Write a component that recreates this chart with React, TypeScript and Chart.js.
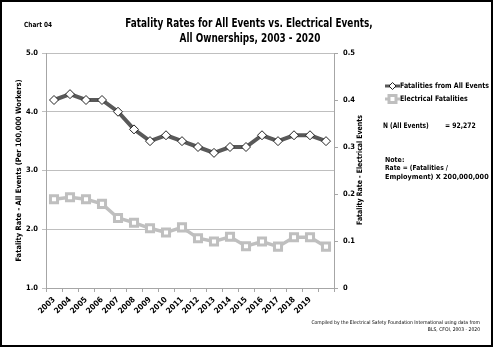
import { useEffect, useRef } from "react";
import { Chart, registerables } from "chart.js";

Chart.register(...registerables);

// ---- data ----
const years = [
  "2003", "2004", "2005", "2006", "2007", "2008", "2009", "2010", "2011",
  "2012", "2013", "2014", "2015", "2016", "2017", "2018", "2019", "2020",
];
// the reference labels only 2003-2019 on the axis
const xTickLabels = [
  "2003", "2004", "2005", "2006", "2007", "2008", "2009", "2010", "2011",
  "2012", "2013", "2014", "2015", "2016", "2017", "2018", "2019",
];
const allEventsRate = [
  4.2, 4.3, 4.2, 4.2, 4.0, 3.7, 3.5, 3.6, 3.5, 3.4, 3.3, 3.4, 3.4, 3.6, 3.5, 3.6, 3.6, 3.5,
];
const electricalRate = [
  0.189, 0.193, 0.189, 0.179, 0.149, 0.139, 0.127, 0.118, 0.129, 0.106, 0.099, 0.109,
  0.089, 0.099, 0.088, 0.108, 0.108, 0.088,
];
const leftTicks = [1, 2, 3, 4, 5];
const rightTicks = [0, 0.1, 0.2, 0.3, 0.4, 0.5];

const seriesNames = ["Fatalities from All Events", "Electrical Fatalities"];
const titleLines = [
  "Fatality Rates for All Events vs. Electrical Events,",
  "All Ownerships, 2003 - 2020",
];
const chartLabel = "Chart 04";
const leftAxisTitle = "Fatality Rate - All Events (Per 100,000 Workers)";
const rightAxisTitle = "Fatality Rate - Electrical Events";
const nLine = ["N (All Events)", "= 92,272"];
const noteLines = ["Note:", "Rate = (Fatalities /", "Employment) X 200,000,000"];
const footerLines = [
  "Compiled by the Electrical Safety Foundation International using data from",
  "BLS, CFOI, 2003 - 2020",
];

const FONT = '"Liberation Sans Narrow", "DejaVu Sans Condensed", Roboto, sans-serif';
const DARK = "#595959";
const LIGHT = "#bfbfbf";

function txt(
  ctx: CanvasRenderingContext2D,
  s: string,
  x: number,
  y: number,
  font: string,
  align: CanvasTextAlign,
  sx = 1,
  rot = 0
) {
  ctx.save();
  ctx.translate(x, y);
  if (rot) ctx.rotate(rot);
  ctx.scale(sx, 1);
  ctx.font = font;
  ctx.textAlign = align;
  ctx.textBaseline = "middle";
  ctx.fillText(s, 0, 0);
  ctx.restore();
}

const decor = {
  id: "decor",
  afterDraw(chart: any) {
    const ctx: CanvasRenderingContext2D = chart.ctx;
    ctx.save();
    ctx.strokeStyle = "#000";
    ctx.lineWidth = 2;
    ctx.strokeRect(1, 1, 491, 345);

    ctx.fillStyle = "#000";
    txt(ctx, chartLabel, 24, 25, `bold 7px ${FONT}`, "left", 0.92);

    txt(ctx, titleLines[0], 249, 24, `bold 11.5px ${FONT}`, "center", 0.86);
    txt(ctx, titleLines[1], 250, 39, `bold 11.5px ${FONT}`, "center", 0.86);

    // right axis title (reads bottom to top)
    txt(ctx, rightAxisTitle, 360, 170, `bold 7.5px ${FONT}`, "center", 0.92, -Math.PI / 2);

    // legend
    const lx0 = 385, lx1 = 400;
    const ly = [86, 99];
    ctx.lineWidth = 3;
    ctx.strokeStyle = DARK;
    ctx.beginPath();
    ctx.moveTo(lx0, ly[0]);
    ctx.lineTo(lx1, ly[0]);
    ctx.stroke();
    ctx.fillStyle = "#fff";
    ctx.strokeStyle = "#222";
    ctx.lineWidth = 1;
    const cx = (lx0 + lx1) / 2;
    ctx.beginPath();
    ctx.moveTo(cx, ly[0] - 3.5);
    ctx.lineTo(cx + 3.5, ly[0]);
    ctx.lineTo(cx, ly[0] + 3.5);
    ctx.lineTo(cx - 3.5, ly[0]);
    ctx.closePath();
    ctx.fill();
    ctx.stroke();

    ctx.lineWidth = 3;
    ctx.strokeStyle = LIGHT;
    ctx.beginPath();
    ctx.moveTo(lx0, ly[1]);
    ctx.lineTo(lx1, ly[1]);
    ctx.stroke();
    ctx.fillStyle = "#fff";
    ctx.fillRect(cx - 3.5, ly[1] - 3.5, 7, 7);
    ctx.strokeRect(cx - 3.5, ly[1] - 3.5, 7, 7);

    ctx.fillStyle = "#000";
    txt(ctx, seriesNames[0], 400, ly[0], `bold 7.5px ${FONT}`, "left", 0.93);
    txt(ctx, seriesNames[1], 400, ly[1], `bold 7.5px ${FONT}`, "left", 0.93);

    txt(ctx, nLine[0], 383, 126, `bold 7.5px ${FONT}`, "left", 0.88);
    txt(ctx, nLine[1], 445, 126, `bold 7.5px ${FONT}`, "left", 0.9);

    txt(ctx, noteLines[0], 385, 160, `bold 7px ${FONT}`, "left", 1);
    txt(ctx, noteLines[1], 385, 168.5, `bold 7px ${FONT}`, "left", 0.95);
    txt(ctx, noteLines[2], 385, 177, `bold 7px ${FONT}`, "left", 1.03);

    txt(ctx, footerLines[0], 480, 323, `5px ${FONT}`, "right", 1);
    txt(ctx, footerLines[1], 480, 330, `5px ${FONT}`, "right", 1);
    ctx.restore();
  },
};

export default function App() {
  const ref = useRef<HTMLCanvasElement>(null);

  useEffect(() => {
    if (!ref.current) return;
    const chart = new Chart(ref.current, {
      type: "line",
      data: {
        labels: years,
        datasets: [
          {
            label: seriesNames[0],
            data: allEventsRate,
            yAxisID: "y",
            borderColor: DARK,
            borderWidth: 4,
            pointStyle: "rectRot",
            pointRadius: 4.5,
            pointBackgroundColor: "#fff",
            pointBorderColor: "#222",
            pointBorderWidth: 1,
            tension: 0,
          },
          {
            label: seriesNames[1],
            data: electricalRate,
            yAxisID: "y1",
            borderColor: LIGHT,
            borderWidth: 3.5,
            pointStyle: "rect",
            pointRadius: 5,
            pointBackgroundColor: "#fff",
            pointBorderColor: LIGHT,
            pointBorderWidth: 3,
            tension: 0,
          },
        ],
      },
      options: {
        responsive: false,
        animation: false,
        devicePixelRatio: 1,
        layout: { padding: { left: 0, right: 126, top: 53, bottom: 29 } },
        plugins: {
          legend: { display: false },
          tooltip: { enabled: false },
          title: { display: false },
        },
        scales: {
          x: {
            offset: true,
            grid: {
              offset: true,
              drawOnChartArea: false,
              drawTicks: true,
              tickLength: 4,
              color: "#a6a6a6",
            },
            border: { display: true, color: "#a6a6a6" },
            ticks: {
              autoSkip: false,
              maxRotation: 45,
              minRotation: 45,
              padding: 3,
              color: "#000",
              font: { family: FONT, size: 8, weight: "bold" },
              callback: (_v: any, i: number) => xTickLabels[i] ?? "",
            },
            afterFit: (s: any) => {
              s.height = 30;
            },
          },
          y: {
            position: "left",
            min: leftTicks[0],
            max: leftTicks[leftTicks.length - 1],
            afterBuildTicks: (s: any) => {
              s.ticks = leftTicks.map((v) => ({ value: v }));
            },
            grid: { color: "#bfbfbf", tickLength: 4, drawTicks: true },
            border: { display: true, color: "#a6a6a6" },
            ticks: {
              padding: 4,
              color: "#000",
              font: { family: FONT, size: 7.5, weight: "bold" },
              callback: (v: any) => Number(v).toFixed(1),
            },
            title: {
              display: true,
              text: leftAxisTitle,
              color: "#000",
              font: { family: FONT, size: 7.5, weight: "bold" },
              padding: { top: 15, bottom: 0 },
            },
            afterFit: (s: any) => {
              s.width = 46;
            },
          },
          y1: {
            position: "right",
            min: rightTicks[0],
            max: rightTicks[rightTicks.length - 1],
            afterBuildTicks: (s: any) => {
              s.ticks = rightTicks.map((v) => ({ value: v }));
            },
            grid: { drawOnChartArea: false, tickLength: 4, color: "#a6a6a6" },
            border: { display: true, color: "#a6a6a6" },
            ticks: {
              padding: 5,
              color: "#000",
              font: { family: FONT, size: 7.5, weight: "bold" },
              callback: (v: any) => (Number(v) === 0 ? "0" : Number(v).toFixed(1)),
            },
            afterFit: (s: any) => {
              s.width = 33;
            },
          },
        },
      },
      plugins: [decor],
    });
    return () => chart.destroy();
  }, []);

  return (
    <div style={{ position: "fixed", left: 0, top: 0, width: 493, height: 347, background: "#fff" }}>
      <canvas ref={ref} width={493} height={347} style={{ display: "block" }} />
    </div>
  );
}
